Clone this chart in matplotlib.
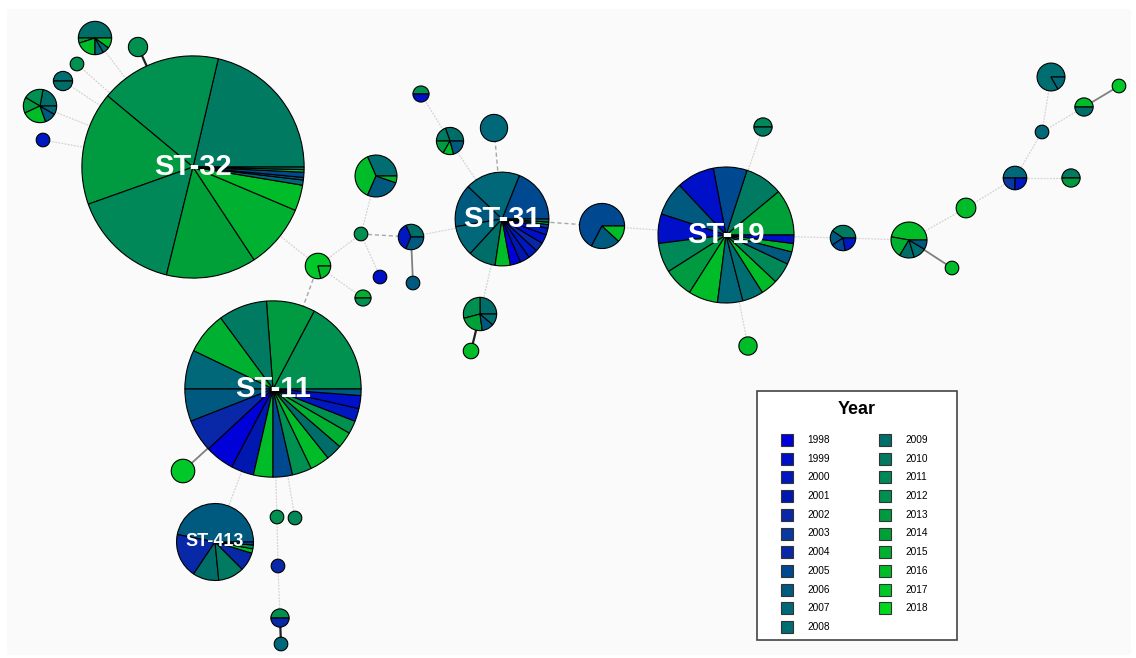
import numpy as np
import matplotlib.pyplot as plt
from matplotlib.patches import Wedge, Rectangle

plt.rcParams['font.family'] = ['Liberation Sans', 'DejaVu Sans']

# Цвета по годам (от синего к зелёному)
years = list(range(1998, 2019))
year_colors = ['#0000d8', '#0010c8', '#0018c0', '#0018b0', '#0828a8', '#0838a0', '#0828a8',
               '#004890', '#005a80', '#006878', '#006e70', '#006e68', '#007a60', '#008858',
               '#009050', '#009a40', '#00a038', '#00b030', '#00bc28', '#00c828', '#00d820']
color_of = dict(zip(years, year_colors))

# Узлы сети: имя, положение, состав по годам (год, число изолятов)
node_names = ['ST-32', 'ST-11', 'ST-31', 'ST-19', 'ST-413',
              'A', 'B', 'C', 'D', 'E', 'F', 'G', 'H', 'I', 'J', 'K', 'L', 'M', 'N', 'O', 'P',
              'R', 'S', 'T', 'U', 'V', 'W', 'X', 'Y', 'Z', 'AA', 'AB', 'AC', 'AD', 'AE', 'AF',
              'AH', 'AJ', 'AK', 'AL', 'AM', 'AN']
node_x = [193, 273, 502, 726, 215,
          95, 138, 77, 63, 40, 43, 421, 450, 494, 376, 361, 411, 380, 413, 318, 363,
          602, 480, 471, 763, 748, 843, 1051, 1119, 1084, 1042, 1015, 1071, 966, 909, 952,
          183, 277, 295, 278, 280, 281]
node_y = [167, 389, 219, 235, 542,
          38, 47, 64, 81, 106, 140, 94, 141, 128, 176, 234, 237, 277, 283, 266, 298,
          226, 314, 351, 127, 346, 238, 77, 86, 107, 132, 178, 178, 208, 240, 268,
          471, 517, 518, 566, 618, 644]
node_pies = [
    [(2010, 57), (2012, 47), (2013, 44), (2011, 42), (2014, 35), (2015, 25), (2016, 10),
     (2007, 2), (2006, 1), (2005, 2), (2016, 1), (2009, 1)],
    [(2012, 29), (2013, 15), (2010, 15), (2015, 13), (2007, 12), (2006, 10), (2002, 10),
     (1998, 9), (2001, 7), (2016, 6), (2005, 6), (2012, 6), (2016, 6), (2009, 5),
     (2015, 5), (2012, 4), (2000, 4), (1999, 4), (2006, 2)],
    [(2005, 9), (2007, 9), (2006, 7), (2007, 5), (2009, 4.5), (2016, 2.5), (1998, 1.7),
     (2001, 1.6), (2000, 1.6), (2002, 1.5), (1999, 1.5), (2000, 1.1), (2003, 0.6),
     (2016, 0.4), (2007, 0.5)],
    [(2014, 11), (2010, 9), (2005, 8), (1999, 9), (2006, 8), (1999, 7), (2011, 7),
     (2013, 7), (2016, 7), (2007, 6), (2008, 5), (2016, 4), (2011, 5), (2006, 3),
     (2015, 2), (1999, 2)],
    [(2006, 15), (2002, 6), (2009, 3.5), (2010, 3.5), (2002, 2.5), (2016, 0.6),
     (2012, 0.5), (2003, 0.4)],
    [(2009, 3), (2014, 0.3), (2016, 1.2), (2007, 0.5), (2009, 0.4), (2016, 0.6)],
    [(2012, 2)],
    [(2012, 1)],
    [(2008, 1), (2009, 1)],
    [(2009, 1.33), (2012, 1.17), (2013, 0.92), (2016, 1.42), (2006, 0.67), (2007, 0.5)],
    [(2000, 1)],
    [(2012, 0.7), (1999, 0.7)],
    [(2009, 1.22), (2010, 0.78), (2013, 0.67), (2016, 0.5), (2006, 0.83)],
    [(2007, 4)],
    [(2008, 3.0), (2016, 3.5), (2006, 2.5), (2015, 0.5)],
    [(2012, 1)],
    [(2009, 1.1), (2000, 1.3), (2006, 1.1)],
    [(1999, 1)],
    [(2006, 1)],
    [(2017, 2.75), (2016, 0.75)],
    [(2015, 0.7), (2012, 0.7)],
    [(2005, 7.4), (2006, 2.3), (2016, 1.3)],
    [(2009, 1.5), (2012, 1.75), (2014, 1.38), (2006, 0.7), (2008, 0.67)],
    [(2016, 1.3)],
    [(2011, 0.9), (2010, 0.9)],
    [(2016, 1.8)],
    [(2010, 1.42), (2006, 0.65), (2005, 0.65), (2000, 0.78)],
    [(2008, 3.5), (2007, 0.7)],
    [(2017, 1)],
    [(2016, 0.9), (2009, 0.9)],
    [(2007, 1)],
    [(2007, 1.5), (2003, 0.75), (2000, 0.75)],
    [(2010, 0.9), (2013, 0.9)],
    [(2016, 2.1)],
    [(2016, 3.3), (2015, 1.34), (2009, 0.93), (2008, 0.82), (2006, 0.6)],
    [(2016, 1)],
    [(2017, 3)],
    [(2012, 1)],
    [(2011, 1)],
    [(2002, 1)],
    [(2012, 0.9), (2002, 0.9)],
    [(2007, 1)],
]
st_labels = {'ST-32': 21, 'ST-11': 21, 'ST-31': 21, 'ST-19': 21, 'ST-413': 13}

# Связи: (узел, узел, тип линии)
edges = [('A', 'ST-32', 'light'), ('C', 'ST-32', 'light'), ('D', 'ST-32', 'light'),
         ('E', 'ST-32', 'light'), ('F', 'ST-32', 'light'), ('B', 'ST-32', 'black'),
         ('ST-32', 'O', 'light'), ('O', 'ST-11', 'dash'), ('O', 'K', 'light'),
         ('O', 'P', 'light'), ('K', 'J', 'light'), ('K', 'M', 'light'), ('K', 'L', 'dash'),
         ('L', 'ST-31', 'light'), ('L', 'N', 'solid'), ('ST-31', 'H', 'light'),
         ('H', 'G', 'light'), ('ST-31', 'I', 'dash'), ('ST-31', 'S', 'light'),
         ('S', 'T', 'black'), ('ST-31', 'R', 'dash'), ('R', 'ST-19', 'light'),
         ('ST-19', 'U', 'light'), ('ST-19', 'V', 'light'), ('ST-19', 'W', 'light'),
         ('W', 'AE', 'light'), ('AE', 'AF', 'solid'), ('AE', 'AD', 'light'),
         ('AD', 'AB', 'light'), ('AB', 'AC', 'light'), ('AB', 'AA', 'light'),
         ('AA', 'X', 'light'), ('AA', 'Z', 'light'), ('Z', 'Y', 'solid'),
         ('ST-11', 'AH', 'solid'), ('ST-11', 'ST-413', 'light'), ('ST-11', 'AJ', 'light'),
         ('ST-11', 'AK', 'light'), ('AJ', 'AL', 'light'), ('AL', 'AM', 'light'),
         ('AM', 'AN', 'black')]
edge_styles = {'light': dict(color='#d4d4d4', lw=0.9, ls=(0, (1.5, 1))),
               'dash': dict(color='#a8a8a8', lw=1.0, ls=(0, (3, 2))),
               'solid': dict(color='#808080', lw=1.3, ls='-'),
               'black': dict(color='#202020', lw=1.6, ls='-')}

fig = plt.figure(figsize=(11.36, 6.58), dpi=100)
ax = fig.add_axes([0, 0, 1, 1])
ax.set_xlim(0, 1136)
ax.set_ylim(658, 0)
ax.set_aspect('equal')
ax.axis('off')
fig.patch.set_facecolor('white')
ax.add_patch(Rectangle((7, 9), 1124, 646, facecolor='#fafafa', edgecolor='none', zorder=0))

pos = {n: (x, y) for n, x, y in zip(node_names, node_x, node_y)}

for a, b, st in edges:
    (x1, y1), (x2, y2) = pos[a], pos[b]
    ax.plot([x1, x2], [y1, y2], zorder=1, **edge_styles[st])

for name, x, y, pie in zip(node_names, node_x, node_y, node_pies):
    total = sum(c for _, c in pie)
    r = 6.8 * np.sqrt(total)
    start = 0.0
    for yr, c in pie:
        ang = 360.0 * c / total
        # ось y перевёрнута, поэтому углы берём со знаком минус
        w = Wedge((x, y), r, -(start + ang), -start, facecolor=color_of[yr],
                  edgecolor='black', lw=0.8, zorder=2)
        ax.add_patch(w)
        start += ang
    if name in st_labels:
        ax.text(x, y, name, color='white', fontsize=st_labels[name], fontweight='bold',
                ha='center', va='center', zorder=4)

# Легенда
ax.add_patch(Rectangle((757, 391), 200, 249, facecolor='white', edgecolor='#444444',
                       lw=1.2, zorder=5))
ax.text(857, 410, 'Year', fontsize=13, fontweight='bold', ha='center', va='center', zorder=6)
for i, (yr, col) in enumerate(zip(years, year_colors)):
    colx = 787 if i < 11 else 885
    row = i if i < 11 else i - 11
    yy = 440 + row * 18.7
    ax.add_patch(Rectangle((colx - 6, yy - 6), 12, 12, facecolor=col, edgecolor='#333333',
                           lw=0.8, zorder=6))
    ax.text(colx + 20, yy, str(yr), fontsize=7.3, ha='left', va='center', zorder=6)

fig.savefig('out.png', dpi=100, facecolor='white')
